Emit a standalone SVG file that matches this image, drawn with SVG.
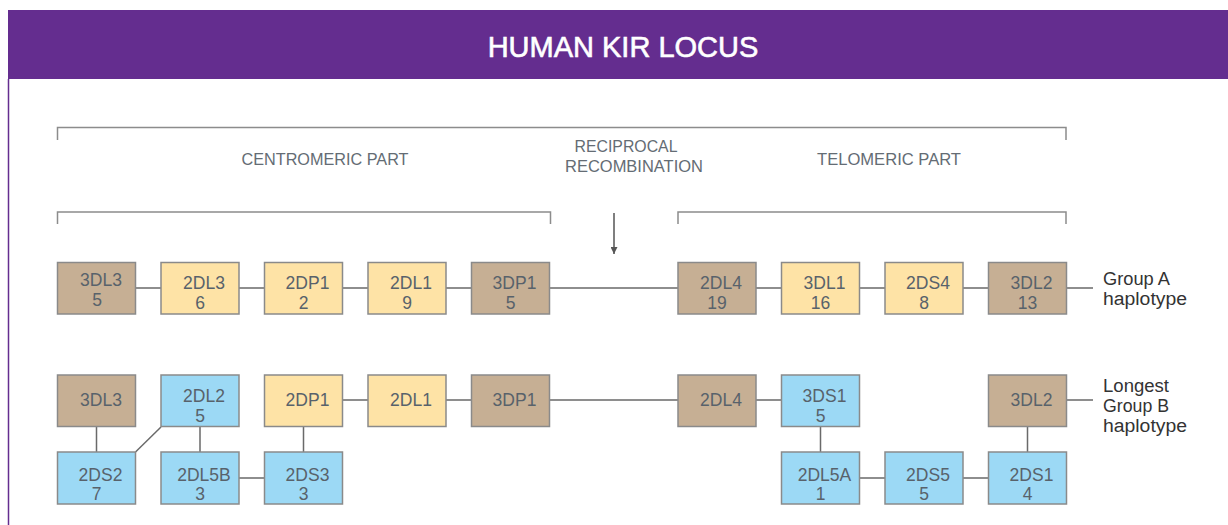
<svg xmlns="http://www.w3.org/2000/svg" width="1228" height="525" viewBox="0 0 1228 525">
<defs>
<marker id="arr" viewBox="0 0 10 10" refX="10" refY="5" markerWidth="9" markerHeight="7" orient="auto" markerUnits="userSpaceOnUse">
<path d="M0,0 L10,5 L0,10 Z" fill="#555"/>
</marker>
</defs>
<style>
.bk{fill:none;stroke:#8c8c8c;stroke-width:1.5}
.cn{fill:none;stroke:#6a6a6a;stroke-width:1.5}
.bx{stroke:#8a8a8a;stroke-width:1.5}
.tan{fill:#c6af94}
.yel{fill:#fee3a6}
.blu{fill:#9cd9f5}
.bt{font-family:"Liberation Sans",Arial,sans-serif;font-size:17.5px;fill:#58626b;text-anchor:middle}
.hd{font-family:"Liberation Sans",Arial,sans-serif;font-size:17px;fill:#646c74;text-anchor:middle}
.lb{font-family:"Liberation Sans",Arial,sans-serif;font-size:18px;fill:#333}
</style>
<rect x="0" y="0" width="1228" height="525" fill="#fff"/>
<rect x="8" y="10" width="1220" height="69" fill="#642d8f"/>
<line x1="8.5" y1="79" x2="8.5" y2="525" stroke="#642d8f" stroke-width="1.5"/>
<text x="623" y="57" font-family="'Liberation Sans',Arial,sans-serif" font-size="29" fill="#fff" stroke="#fff" stroke-width="0.6" text-anchor="middle">HUMAN KIR LOCUS</text>

<g id="brackets">
<path class="bk" d="M57.5,140 V127.5 H1066 V140"/>
<path class="bk" d="M57.5,224 V212 H550.5 V224"/>
<path class="bk" d="M678,224 V212 H1066 V224"/>
</g>
<g id="labels">
<text class="hd" x="325" y="165" textLength="167" lengthAdjust="spacingAndGlyphs">CENTROMERIC PART</text>
<text class="hd" x="626" y="152" textLength="103" lengthAdjust="spacingAndGlyphs">RECIPROCAL</text>
<text class="hd" x="634" y="172" textLength="138" lengthAdjust="spacingAndGlyphs">RECOMBINATION</text>
<text class="hd" x="889" y="165" textLength="144" lengthAdjust="spacingAndGlyphs">TELOMERIC PART</text>
<text class="lb" x="1103" y="285" textLength="67" lengthAdjust="spacingAndGlyphs">Group A</text>
<text class="lb" x="1103" y="305" textLength="84" lengthAdjust="spacingAndGlyphs">haplotype</text>
<text class="lb" x="1103" y="392" textLength="66" lengthAdjust="spacingAndGlyphs">Longest</text>
<text class="lb" x="1103" y="412" textLength="66" lengthAdjust="spacingAndGlyphs">Group B</text>
<text class="lb" x="1103" y="432" textLength="84" lengthAdjust="spacingAndGlyphs">haplotype</text>
</g>

<g id="connectors">
<line x1="614" y1="213" x2="614" y2="254" stroke="#555" stroke-width="1.5" marker-end="url(#arr)"/>
<path class="cn" d="M135.5,288 H161 M239,288 H264.5 M342.5,288 H368 M446,288 H471.5 M549.5,288 H678 M756,288 H781.5 M859.5,288 H885 M963,288 H988.5 M1066.5,288 H1093"/>
<path class="cn" d="M342.5,400 H368 M446,400 H471.5 M549.5,400 H678 M756,400 H781.5 M1066.5,400 H1093"/>
<path class="cn" d="M96.5,427 V452 M200,427 V452 M303.5,427 V452 M820.5,427 V452 M1027.5,427 V452"/>
<path class="cn" d="M239,478 H264.5 M859.5,478 H885 M963,478 H988.5"/>
<path class="cn" d="M135.5,452 L161,427"/>
</g>

<g id="rowA">
<g id="a-3DL3"><rect class="bx tan" x="57.5" y="262.5" width="78" height="51.5"/><text class="bt" x="101" y="286">3DL3</text><text class="bt" x="97" y="306">5</text></g>
<g id="a-2DL3"><rect class="bx yel" x="161" y="262.5" width="78" height="51.5"/><text class="bt" x="204" y="289">2DL3</text><text class="bt" x="200" y="309">6</text></g>
<g id="a-2DP1"><rect class="bx yel" x="264.5" y="262.5" width="78" height="51.5"/><text class="bt" x="307.5" y="289">2DP1</text><text class="bt" x="303.5" y="309">2</text></g>
<g id="a-2DL1"><rect class="bx yel" x="368" y="262.5" width="78" height="51.5"/><text class="bt" x="411" y="289">2DL1</text><text class="bt" x="407" y="309">9</text></g>
<g id="a-3DP1"><rect class="bx tan" x="471.5" y="262.5" width="78" height="51.5"/><text class="bt" x="514.5" y="289">3DP1</text><text class="bt" x="510.5" y="309">5</text></g>
<g id="a-2DL4"><rect class="bx tan" x="678" y="262.5" width="78" height="51.5"/><text class="bt" x="721" y="289">2DL4</text><text class="bt" x="717" y="309">19</text></g>
<g id="a-3DL1"><rect class="bx yel" x="781.5" y="262.5" width="78" height="51.5"/><text class="bt" x="824.5" y="289">3DL1</text><text class="bt" x="820.5" y="309">16</text></g>
<g id="a-2DS4"><rect class="bx yel" x="885" y="262.5" width="78" height="51.5"/><text class="bt" x="928" y="289">2DS4</text><text class="bt" x="924" y="309">8</text></g>
<g id="a-3DL2"><rect class="bx tan" x="988.5" y="262.5" width="78" height="51.5"/><text class="bt" x="1031.5" y="289">3DL2</text><text class="bt" x="1027.5" y="309">13</text></g>
</g>

<g id="rowB">
<g id="b-3DL3"><rect class="bx tan" x="57.5" y="375" width="78" height="51.5"/><text class="bt" x="101" y="406">3DL3</text></g>
<g id="b-2DL2"><rect class="bx blu" x="161" y="375" width="78" height="51.5"/><text class="bt" x="204" y="402">2DL2</text><text class="bt" x="200" y="422">5</text></g>
<g id="b-2DP1"><rect class="bx yel" x="264.5" y="375" width="78" height="51.5"/><text class="bt" x="307.5" y="406">2DP1</text></g>
<g id="b-2DL1"><rect class="bx yel" x="368" y="375" width="78" height="51.5"/><text class="bt" x="411" y="406">2DL1</text></g>
<g id="b-3DP1"><rect class="bx tan" x="471.5" y="375" width="78" height="51.5"/><text class="bt" x="514.5" y="406">3DP1</text></g>
<g id="b-2DL4"><rect class="bx tan" x="678" y="375" width="78" height="51.5"/><text class="bt" x="721" y="406">2DL4</text></g>
<g id="b-3DS1"><rect class="bx blu" x="781.5" y="375" width="78" height="51.5"/><text class="bt" x="824.5" y="402">3DS1</text><text class="bt" x="820.5" y="422">5</text></g>
<g id="b-3DL2"><rect class="bx tan" x="988.5" y="375" width="78" height="51.5"/><text class="bt" x="1031.5" y="406">3DL2</text></g>
<g id="b-2DS2"><rect class="bx blu" x="57.5" y="452" width="78" height="52"/><text class="bt" x="100.5" y="481">2DS2</text><text class="bt" x="96.5" y="500">7</text></g>
<g id="b-2DL5B"><rect class="bx blu" x="161" y="452" width="78" height="52"/><text class="bt" x="204" y="481">2DL5B</text><text class="bt" x="200" y="500">3</text></g>
<g id="b-2DS3"><rect class="bx blu" x="264.5" y="452" width="78" height="52"/><text class="bt" x="307.5" y="481">2DS3</text><text class="bt" x="303.5" y="500">3</text></g>
<g id="b-2DL5A"><rect class="bx blu" x="781.5" y="452" width="78" height="52"/><text class="bt" x="824.5" y="481">2DL5A</text><text class="bt" x="820.5" y="500">1</text></g>
<g id="b-2DS5"><rect class="bx blu" x="885" y="452" width="78" height="52"/><text class="bt" x="928" y="481">2DS5</text><text class="bt" x="924" y="500">5</text></g>
<g id="b-2DS1"><rect class="bx blu" x="988.5" y="452" width="78" height="52"/><text class="bt" x="1031.5" y="481">2DS1</text><text class="bt" x="1027.5" y="500">4</text></g>
</g>
</svg>
